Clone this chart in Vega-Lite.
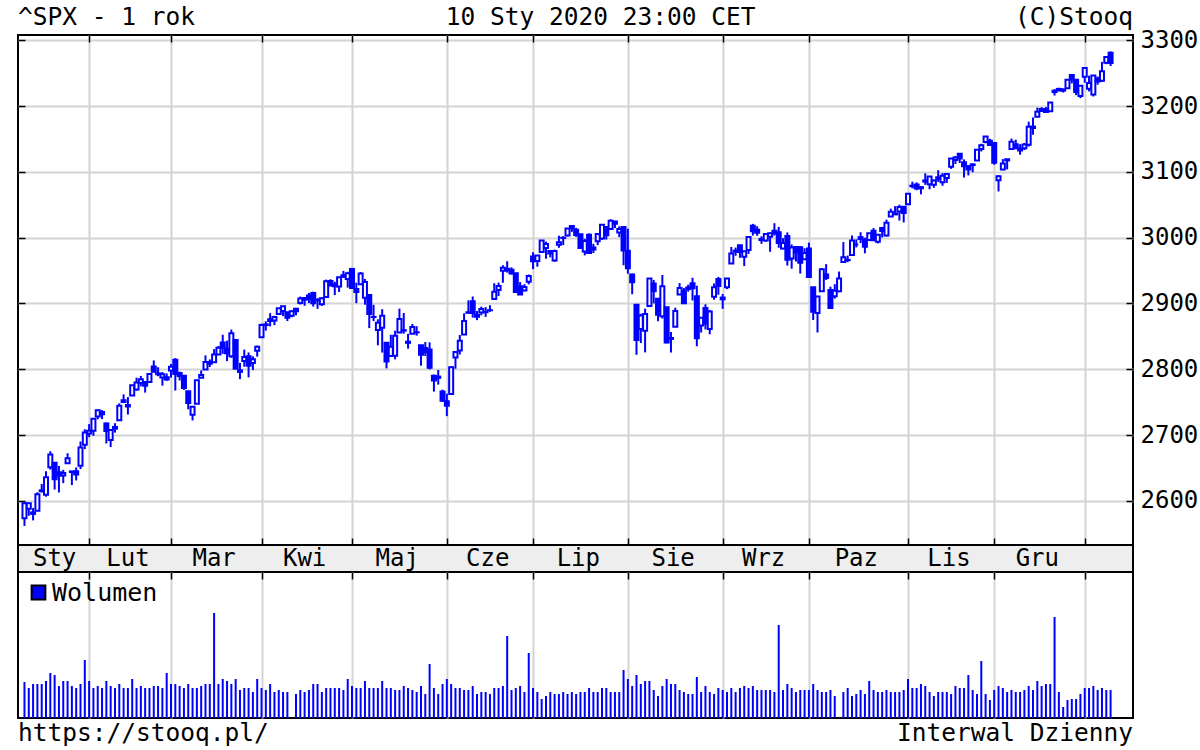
{
"$schema": "https://vega.github.io/schema/vega-lite/v6.json",
"background": "white",
"padding": {"left": 16, "top": 0, "right": 0, "bottom": 0},
"autosize": {"type": "pad"},
"bounds": "flush",
"spacing": 0,
"resolve": {"legend": {"color": "independent"}, "scale": {"color": "independent"}},
"config": {
  "font": "DejaVu Sans Mono",
  "view": {"stroke": null},
  "axis": {"domain": false, "title": null, "gridColor": "#d4d4d4", "gridWidth": 2, "tickColor": "black", "tickWidth": 1.5, "labelFont": "DejaVu Sans Mono"}
},
"datasets": {
"spx": [
{"d":"2019-01-10","o":2573.5,"h":2597.8,"l":2562.0,"c":2596.6,"v":2520},
{"d":"2019-01-11","o":2588.1,"h":2596.3,"l":2577.4,"c":2596.3,"v":2100},
{"d":"2019-01-14","o":2580.3,"h":2589.3,"l":2570.4,"c":2582.6,"v":2380},
{"d":"2019-01-15","o":2585.1,"h":2613.1,"l":2585.1,"c":2610.3,"v":2380},
{"d":"2019-01-16","o":2614.8,"h":2625.8,"l":2612.7,"c":2616.1,"v":2380},
{"d":"2019-01-17","o":2609.3,"h":2645.1,"l":2606.4,"c":2636.0,"v":2590},
{"d":"2019-01-18","o":2651.3,"h":2675.5,"l":2647.6,"c":2670.7,"v":3150},
{"d":"2019-01-22","o":2657.9,"h":2657.9,"l":2617.3,"c":2632.9,"v":3010},
{"d":"2019-01-23","o":2643.5,"h":2653.2,"l":2612.9,"c":2638.7,"v":2240},
{"d":"2019-01-24","o":2638.8,"h":2647.2,"l":2627.0,"c":2642.3,"v":2590},
{"d":"2019-01-25","o":2657.4,"h":2672.4,"l":2657.3,"c":2664.8,"v":2590},
{"d":"2019-01-28","o":2644.9,"h":2644.9,"l":2624.1,"c":2643.9,"v":2240},
{"d":"2019-01-29","o":2644.9,"h":2650.9,"l":2631.1,"c":2640.0,"v":2100},
{"d":"2019-01-30","o":2653.6,"h":2690.4,"l":2648.3,"c":2681.1,"v":2380},
{"d":"2019-01-31","o":2685.5,"h":2708.9,"l":2678.7,"c":2704.1,"v":4060},
{"d":"2019-02-01","o":2702.3,"h":2716.7,"l":2696.9,"c":2706.5,"v":2590},
{"d":"2019-02-04","o":2706.5,"h":2725.0,"l":2698.8,"c":2724.9,"v":2100},
{"d":"2019-02-05","o":2728.3,"h":2739.0,"l":2724.0,"c":2737.7,"v":2240},
{"d":"2019-02-06","o":2735.1,"h":2738.1,"l":2724.2,"c":2731.6,"v":2100},
{"d":"2019-02-07","o":2717.5,"h":2719.3,"l":2687.3,"c":2706.1,"v":2590},
{"d":"2019-02-08","o":2692.4,"h":2708.1,"l":2681.8,"c":2707.9,"v":2240},
{"d":"2019-02-11","o":2712.4,"h":2718.1,"l":2703.8,"c":2709.8,"v":2100},
{"d":"2019-02-12","o":2722.6,"h":2748.2,"l":2722.6,"c":2744.7,"v":2380},
{"d":"2019-02-13","o":2750.3,"h":2761.9,"l":2748.6,"c":2753.0,"v":2100},
{"d":"2019-02-14","o":2743.5,"h":2757.9,"l":2731.2,"c":2745.7,"v":2100},
{"d":"2019-02-15","o":2760.2,"h":2775.7,"l":2760.2,"c":2775.6,"v":2730},
{"d":"2019-02-19","o":2769.3,"h":2787.3,"l":2767.3,"c":2779.8,"v":2100},
{"d":"2019-02-20","o":2779.1,"h":2789.9,"l":2774.1,"c":2784.7,"v":2240},
{"d":"2019-02-21","o":2780.7,"h":2781.6,"l":2764.6,"c":2774.9,"v":2100},
{"d":"2019-02-22","o":2780.7,"h":2794.2,"l":2779.1,"c":2792.7,"v":2100},
{"d":"2019-02-25","o":2804.4,"h":2813.5,"l":2795.0,"c":2796.1,"v":2240},
{"d":"2019-02-26","o":2792.4,"h":2803.1,"l":2789.5,"c":2793.9,"v":2240},
{"d":"2019-02-27","o":2787.5,"h":2795.8,"l":2775.1,"c":2792.4,"v":2100},
{"d":"2019-02-28","o":2788.1,"h":2793.7,"l":2782.5,"c":2784.5,"v":3150},
{"d":"2019-03-01","o":2798.2,"h":2808.0,"l":2787.4,"c":2803.7,"v":2380},
{"d":"2019-03-04","o":2814.4,"h":2816.9,"l":2767.7,"c":2792.8,"v":2380},
{"d":"2019-03-05","o":2794.4,"h":2796.4,"l":2783.0,"c":2789.7,"v":2240},
{"d":"2019-03-06","o":2790.3,"h":2790.3,"l":2768.7,"c":2771.5,"v":2100},
{"d":"2019-03-07","o":2766.5,"h":2767.3,"l":2739.1,"c":2748.9,"v":2380},
{"d":"2019-03-08","o":2730.8,"h":2744.1,"l":2722.3,"c":2743.1,"v":2100},
{"d":"2019-03-11","o":2747.6,"h":2784.0,"l":2747.6,"c":2783.3,"v":2100},
{"d":"2019-03-12","o":2787.3,"h":2798.3,"l":2786.7,"c":2791.5,"v":2240},
{"d":"2019-03-13","o":2799.8,"h":2821.2,"l":2799.8,"c":2810.9,"v":2380},
{"d":"2019-03-14","o":2811.0,"h":2815.0,"l":2803.5,"c":2808.5,"v":2380},
{"d":"2019-03-15","o":2810.8,"h":2830.7,"l":2810.8,"c":2822.5,"v":7350},
{"d":"2019-03-18","o":2822.6,"h":2835.4,"l":2822.0,"c":2832.9,"v":2380},
{"d":"2019-03-19","o":2840.8,"h":2852.4,"l":2823.3,"c":2832.6,"v":2730},
{"d":"2019-03-20","o":2831.3,"h":2843.5,"l":2812.4,"c":2824.2,"v":2590},
{"d":"2019-03-21","o":2819.7,"h":2860.3,"l":2817.4,"c":2854.9,"v":2380},
{"d":"2019-03-22","o":2844.5,"h":2846.2,"l":2800.5,"c":2800.7,"v":2730},
{"d":"2019-03-25","o":2796.0,"h":2809.8,"l":2785.0,"c":2798.4,"v":1960},
{"d":"2019-03-26","o":2812.7,"h":2829.9,"l":2804.0,"c":2818.5,"v":2100},
{"d":"2019-03-27","o":2819.7,"h":2825.6,"l":2787.7,"c":2805.4,"v":2100},
{"d":"2019-03-28","o":2809.4,"h":2819.7,"l":2798.8,"c":2815.4,"v":1820},
{"d":"2019-03-29","o":2828.3,"h":2836.0,"l":2819.2,"c":2834.4,"v":2730},
{"d":"2019-04-01","o":2848.6,"h":2869.4,"l":2848.6,"c":2867.2,"v":2100},
{"d":"2019-04-02","o":2868.2,"h":2872.9,"l":2858.8,"c":2867.2,"v":1960},
{"d":"2019-04-03","o":2876.1,"h":2885.3,"l":2865.2,"c":2873.4,"v":2380},
{"d":"2019-04-04","o":2874.0,"h":2881.3,"l":2867.1,"c":2879.4,"v":1820},
{"d":"2019-04-05","o":2884.2,"h":2893.2,"l":2883.0,"c":2892.7,"v":1960},
{"d":"2019-04-08","o":2888.5,"h":2896.0,"l":2880.8,"c":2895.8,"v":1820},
{"d":"2019-04-09","o":2886.6,"h":2886.9,"l":2873.3,"c":2878.2,"v":1820},
{"d":"2019-04-10","o":2881.4,"h":2889.7,"l":2879.1,"c":2888.2,"v":null},
{"d":"2019-04-11","o":2891.9,"h":2893.4,"l":2882.0,"c":2888.3,"v":1680},
{"d":"2019-04-12","o":2900.9,"h":2910.5,"l":2898.4,"c":2907.4,"v":1960},
{"d":"2019-04-15","o":2908.3,"h":2909.6,"l":2896.5,"c":2905.6,"v":1820},
{"d":"2019-04-16","o":2912.3,"h":2916.1,"l":2900.7,"c":2907.1,"v":1960},
{"d":"2019-04-17","o":2916.0,"h":2918.0,"l":2895.4,"c":2900.5,"v":2380},
{"d":"2019-04-18","o":2904.8,"h":2908.4,"l":2891.9,"c":2905.0,"v":2380},
{"d":"2019-04-22","o":2898.8,"h":2909.5,"l":2896.4,"c":2908.0,"v":1820},
{"d":"2019-04-23","o":2910.0,"h":2936.3,"l":2908.5,"c":2933.7,"v":2100},
{"d":"2019-04-24","o":2934.0,"h":2936.8,"l":2926.1,"c":2927.3,"v":2100},
{"d":"2019-04-25","o":2929.0,"h":2933.1,"l":2912.8,"c":2926.2,"v":2100},
{"d":"2019-04-26","o":2925.8,"h":2939.9,"l":2917.6,"c":2939.9,"v":2100},
{"d":"2019-04-29","o":2940.6,"h":2949.5,"l":2939.4,"c":2943.0,"v":1960},
{"d":"2019-04-30","o":2937.1,"h":2948.2,"l":2924.1,"c":2945.8,"v":2730},
{"d":"2019-05-01","o":2952.3,"h":2954.1,"l":2923.4,"c":2923.7,"v":2240},
{"d":"2019-05-02","o":2922.2,"h":2931.7,"l":2900.5,"c":2917.5,"v":2100},
{"d":"2019-05-03","o":2929.2,"h":2947.9,"l":2929.2,"c":2945.6,"v":2100},
{"d":"2019-05-06","o":2908.9,"h":2937.3,"l":2898.2,"c":2932.5,"v":2590},
{"d":"2019-05-07","o":2913.0,"h":2913.0,"l":2862.6,"c":2884.1,"v":2100},
{"d":"2019-05-08","o":2879.6,"h":2898.0,"l":2873.3,"c":2879.4,"v":2100},
{"d":"2019-05-09","o":2859.8,"h":2876.0,"l":2836.4,"c":2870.7,"v":2100},
{"d":"2019-05-10","o":2863.1,"h":2891.3,"l":2825.4,"c":2881.4,"v":2590},
{"d":"2019-05-13","o":2840.2,"h":2840.2,"l":2801.4,"c":2811.9,"v":2100},
{"d":"2019-05-14","o":2820.1,"h":2852.5,"l":2820.1,"c":2834.4,"v":2100},
{"d":"2019-05-15","o":2820.4,"h":2858.7,"l":2815.1,"c":2851.0,"v":1960},
{"d":"2019-05-16","o":2855.8,"h":2892.2,"l":2855.8,"c":2876.3,"v":1960},
{"d":"2019-05-17","o":2858.6,"h":2885.5,"l":2854.2,"c":2859.5,"v":2240},
{"d":"2019-05-20","o":2841.9,"h":2853.9,"l":2831.3,"c":2840.2,"v":2100},
{"d":"2019-05-21","o":2854.0,"h":2868.9,"l":2854.0,"c":2864.4,"v":1960},
{"d":"2019-05-22","o":2856.1,"h":2865.5,"l":2851.1,"c":2856.3,"v":1820},
{"d":"2019-05-23","o":2836.7,"h":2836.7,"l":2805.5,"c":2822.2,"v":2240},
{"d":"2019-05-24","o":2832.4,"h":2841.4,"l":2820.2,"c":2826.1,"v":1680},
{"d":"2019-05-28","o":2830.0,"h":2841.0,"l":2799.8,"c":2802.4,"v":3780},
{"d":"2019-05-29","o":2790.3,"h":2792.0,"l":2766.1,"c":2783.0,"v":2100},
{"d":"2019-05-30","o":2786.9,"h":2799.0,"l":2776.7,"c":2788.9,"v":1680},
{"d":"2019-05-31","o":2766.2,"h":2769.0,"l":2750.5,"c":2752.1,"v":2380},
{"d":"2019-06-03","o":2751.5,"h":2763.1,"l":2728.8,"c":2744.5,"v":2730},
{"d":"2019-06-04","o":2762.6,"h":2804.5,"l":2762.6,"c":2803.3,"v":2380},
{"d":"2019-06-05","o":2818.1,"h":2827.3,"l":2800.9,"c":2826.2,"v":2100},
{"d":"2019-06-06","o":2828.5,"h":2852.1,"l":2822.5,"c":2843.5,"v":2100},
{"d":"2019-06-07","o":2852.9,"h":2885.0,"l":2852.9,"c":2873.3,"v":1960},
{"d":"2019-06-10","o":2885.8,"h":2904.8,"l":2885.5,"c":2886.7,"v":1960},
{"d":"2019-06-11","o":2903.3,"h":2910.6,"l":2878.5,"c":2885.7,"v":2240},
{"d":"2019-06-12","o":2882.7,"h":2888.6,"l":2874.7,"c":2879.8,"v":1680},
{"d":"2019-06-13","o":2886.2,"h":2895.2,"l":2882.0,"c":2891.6,"v":1820},
{"d":"2019-06-14","o":2886.8,"h":2894.5,"l":2879.6,"c":2887.0,"v":1820},
{"d":"2019-06-17","o":2889.8,"h":2897.3,"l":2887.3,"c":2889.7,"v":1680},
{"d":"2019-06-18","o":2906.7,"h":2930.8,"l":2905.4,"c":2917.8,"v":2100},
{"d":"2019-06-19","o":2920.6,"h":2931.7,"l":2911.4,"c":2926.5,"v":2100},
{"d":"2019-06-20","o":2949.6,"h":2958.1,"l":2931.5,"c":2954.2,"v":2240},
{"d":"2019-06-21","o":2952.7,"h":2964.2,"l":2946.9,"c":2950.5,"v":5740},
{"d":"2019-06-24","o":2951.4,"h":2954.9,"l":2944.1,"c":2945.4,"v":1960},
{"d":"2019-06-25","o":2945.8,"h":2946.5,"l":2916.0,"c":2917.4,"v":2100},
{"d":"2019-06-26","o":2926.1,"h":2932.6,"l":2913.0,"c":2913.8,"v":2240},
{"d":"2019-06-27","o":2919.7,"h":2929.3,"l":2918.6,"c":2924.9,"v":1820},
{"d":"2019-06-28","o":2932.9,"h":2944.0,"l":2929.1,"c":2941.8,"v":4550},
{"d":"2019-07-01","o":2971.4,"h":2977.9,"l":2952.2,"c":2964.3,"v":2100},
{"d":"2019-07-02","o":2964.7,"h":2973.2,"l":2955.9,"c":2973.0,"v":1820},
{"d":"2019-07-03","o":2978.1,"h":2995.8,"l":2978.0,"c":2995.8,"v":1330},
{"d":"2019-07-05","o":2984.3,"h":2994.0,"l":2968.0,"c":2990.4,"v":1540},
{"d":"2019-07-08","o":2979.8,"h":2980.8,"l":2970.1,"c":2976.0,"v":1820},
{"d":"2019-07-09","o":2965.5,"h":2981.9,"l":2963.4,"c":2979.6,"v":1680},
{"d":"2019-07-10","o":2989.3,"h":3003.0,"l":2984.6,"c":2993.1,"v":1680},
{"d":"2019-07-11","o":2999.6,"h":3002.3,"l":2988.8,"c":2999.9,"v":1820},
{"d":"2019-07-12","o":3003.4,"h":3013.9,"l":3001.9,"c":3013.8,"v":1680},
{"d":"2019-07-15","o":3017.8,"h":3017.8,"l":3008.8,"c":3014.3,"v":1820},
{"d":"2019-07-16","o":3012.1,"h":3015.0,"l":3001.2,"c":3004.0,"v":1680},
{"d":"2019-07-17","o":3005.1,"h":3005.3,"l":2984.3,"c":2984.4,"v":1820},
{"d":"2019-07-18","o":2978.9,"h":2998.3,"l":2973.1,"c":2995.1,"v":1820},
{"d":"2019-07-19","o":3004.3,"h":3006.5,"l":2975.9,"c":2976.6,"v":2100},
{"d":"2019-07-22","o":2981.9,"h":2990.7,"l":2976.7,"c":2985.0,"v":1820},
{"d":"2019-07-23","o":2994.7,"h":3005.9,"l":2988.6,"c":3005.5,"v":1820},
{"d":"2019-07-24","o":2998.8,"h":3019.6,"l":2996.8,"c":3019.6,"v":2100},
{"d":"2019-07-25","o":3016.3,"h":3016.3,"l":2997.2,"c":3003.7,"v":2100},
{"d":"2019-07-26","o":3013.3,"h":3028.0,"l":3012.6,"c":3025.9,"v":1820},
{"d":"2019-07-29","o":3024.5,"h":3025.6,"l":3014.5,"c":3021.0,"v":1820},
{"d":"2019-07-30","o":3007.7,"h":3017.2,"l":3000.9,"c":3013.2,"v":1820},
{"d":"2019-07-31","o":3016.2,"h":3017.4,"l":2958.1,"c":2980.4,"v":3360},
{"d":"2019-08-01","o":2980.3,"h":3013.6,"l":2945.2,"c":2953.6,"v":2730},
{"d":"2019-08-02","o":2943.9,"h":2945.5,"l":2914.1,"c":2932.1,"v":2240},
{"d":"2019-08-05","o":2898.1,"h":2898.1,"l":2822.1,"c":2844.7,"v":3010},
{"d":"2019-08-06","o":2861.2,"h":2884.4,"l":2840.0,"c":2881.8,"v":2380},
{"d":"2019-08-07","o":2858.7,"h":2892.2,"l":2825.7,"c":2884.0,"v":2590},
{"d":"2019-08-08","o":2896.2,"h":2938.7,"l":2894.5,"c":2938.1,"v":2590},
{"d":"2019-08-09","o":2930.5,"h":2935.8,"l":2900.2,"c":2918.7,"v":1960},
{"d":"2019-08-12","o":2907.1,"h":2907.6,"l":2873.1,"c":2882.7,"v":1540},
{"d":"2019-08-13","o":2880.7,"h":2943.3,"l":2877.1,"c":2926.3,"v":2240},
{"d":"2019-08-14","o":2894.2,"h":2894.2,"l":2839.6,"c":2840.6,"v":2730},
{"d":"2019-08-15","o":2846.2,"h":2856.7,"l":2825.5,"c":2847.6,"v":2380},
{"d":"2019-08-16","o":2864.7,"h":2893.6,"l":2864.7,"c":2888.7,"v":2380},
{"d":"2019-08-19","o":2913.5,"h":2931.0,"l":2913.5,"c":2923.7,"v":1960},
{"d":"2019-08-20","o":2919.0,"h":2923.6,"l":2899.6,"c":2900.5,"v":1820},
{"d":"2019-08-21","o":2922.0,"h":2928.7,"l":2917.9,"c":2924.4,"v":1680},
{"d":"2019-08-22","o":2930.9,"h":2939.1,"l":2904.5,"c":2923.0,"v":1680},
{"d":"2019-08-23","o":2911.1,"h":2927.0,"l":2835.0,"c":2847.1,"v":2870},
{"d":"2019-08-26","o":2866.7,"h":2879.3,"l":2856.0,"c":2878.4,"v":1820},
{"d":"2019-08-27","o":2893.1,"h":2898.8,"l":2860.6,"c":2869.2,"v":2240},
{"d":"2019-08-28","o":2861.3,"h":2890.0,"l":2853.1,"c":2887.9,"v":1820},
{"d":"2019-08-29","o":2910.4,"h":2930.5,"l":2905.7,"c":2924.6,"v":1680},
{"d":"2019-08-30","o":2937.1,"h":2940.4,"l":2913.3,"c":2926.5,"v":2100},
{"d":"2019-09-03","o":2909.0,"h":2914.4,"l":2891.9,"c":2906.3,"v":1960},
{"d":"2019-09-04","o":2924.7,"h":2938.8,"l":2921.9,"c":2937.8,"v":1820},
{"d":"2019-09-05","o":2960.6,"h":2985.9,"l":2960.6,"c":2976.0,"v":2100},
{"d":"2019-09-06","o":2980.3,"h":2985.0,"l":2972.5,"c":2978.7,"v":1820},
{"d":"2019-09-09","o":2988.4,"h":2989.4,"l":2969.4,"c":2978.4,"v":2100},
{"d":"2019-09-10","o":2971.0,"h":2979.4,"l":2957.0,"c":2979.4,"v":2240},
{"d":"2019-09-11","o":2981.4,"h":3000.9,"l":2975.3,"c":3000.9,"v":2100},
{"d":"2019-09-12","o":3018.2,"h":3021.0,"l":3003.2,"c":3009.6,"v":2240},
{"d":"2019-09-13","o":3012.2,"h":3017.3,"l":3002.9,"c":3007.4,"v":1960},
{"d":"2019-09-16","o":2996.4,"h":3002.2,"l":2990.7,"c":2998.0,"v":1960},
{"d":"2019-09-17","o":2995.7,"h":3006.2,"l":2993.7,"c":3005.7,"v":1960},
{"d":"2019-09-18","o":3001.5,"h":3007.8,"l":2978.6,"c":3006.7,"v":1960},
{"d":"2019-09-19","o":3010.4,"h":3022.0,"l":3003.2,"c":3006.8,"v":1820},
{"d":"2019-09-20","o":3008.4,"h":3016.4,"l":2984.7,"c":2992.1,"v":6510},
{"d":"2019-09-23","o":2983.5,"h":2999.2,"l":2982.2,"c":2991.8,"v":1960},
{"d":"2019-09-24","o":3002.4,"h":3008.0,"l":2957.7,"c":2966.6,"v":2380},
{"d":"2019-09-25","o":2968.4,"h":2989.8,"l":2952.9,"c":2984.9,"v":2100},
{"d":"2019-09-26","o":2985.7,"h":2987.3,"l":2963.7,"c":2977.6,"v":1820},
{"d":"2019-09-27","o":2985.5,"h":2987.3,"l":2945.5,"c":2961.8,"v":1960},
{"d":"2019-09-30","o":2967.1,"h":2983.9,"l":2967.1,"c":2976.7,"v":1960},
{"d":"2019-10-01","o":2983.7,"h":2992.5,"l":2938.7,"c":2940.3,"v":1960},
{"d":"2019-10-02","o":2924.8,"h":2924.8,"l":2874.9,"c":2887.6,"v":2380},
{"d":"2019-10-03","o":2885.4,"h":2911.1,"l":2855.9,"c":2910.6,"v":1960},
{"d":"2019-10-04","o":2918.6,"h":2953.7,"l":2918.6,"c":2952.0,"v":1820},
{"d":"2019-10-07","o":2944.2,"h":2959.8,"l":2935.7,"c":2938.8,"v":1820},
{"d":"2019-10-08","o":2920.4,"h":2925.5,"l":2892.7,"c":2893.1,"v":1960},
{"d":"2019-10-09","o":2911.1,"h":2929.3,"l":2907.4,"c":2919.4,"v":1540},
{"d":"2019-10-10","o":2918.6,"h":2948.5,"l":2917.1,"c":2938.1,"v":null},
{"d":"2019-10-11","o":2963.1,"h":2993.3,"l":2963.1,"c":2970.3,"v":1820},
{"d":"2019-10-14","o":2965.8,"h":2972.8,"l":2962.9,"c":2966.2,"v":2100},
{"d":"2019-10-15","o":2973.6,"h":3003.3,"l":2973.6,"c":2995.7,"v":1540},
{"d":"2019-10-16","o":2989.7,"h":2997.5,"l":2985.2,"c":2989.7,"v":1680},
{"d":"2019-10-17","o":3000.8,"h":3008.3,"l":2991.8,"c":2998.0,"v":1960},
{"d":"2019-10-18","o":2996.8,"h":3000.0,"l":2976.3,"c":2986.2,"v":1680},
{"d":"2019-10-21","o":2996.5,"h":3007.3,"l":2995.4,"c":3006.7,"v":2590},
{"d":"2019-10-22","o":3010.7,"h":3014.6,"l":2995.0,"c":2996.0,"v":1960},
{"d":"2019-10-23","o":2994.0,"h":3004.8,"l":2991.2,"c":3004.5,"v":1820},
{"d":"2019-10-24","o":3014.8,"h":3016.1,"l":3000.4,"c":3010.3,"v":1820},
{"d":"2019-10-25","o":3003.3,"h":3027.4,"l":3001.9,"c":3022.6,"v":1960},
{"d":"2019-10-28","o":3032.1,"h":3044.1,"l":3032.1,"c":3039.4,"v":1820},
{"d":"2019-10-29","o":3035.4,"h":3047.9,"l":3034.8,"c":3036.9,"v":1820},
{"d":"2019-10-30","o":3039.7,"h":3050.1,"l":3026.0,"c":3046.8,"v":1820},
{"d":"2019-10-31","o":3046.9,"h":3046.9,"l":3023.2,"c":3037.6,"v":1960},
{"d":"2019-11-01","o":3050.7,"h":3067.0,"l":3050.7,"c":3066.9,"v":2730},
{"d":"2019-11-04","o":3079.0,"h":3085.2,"l":3074.9,"c":3078.3,"v":2100},
{"d":"2019-11-05","o":3080.8,"h":3084.0,"l":3072.2,"c":3074.6,"v":2100},
{"d":"2019-11-06","o":3075.1,"h":3078.3,"l":3065.9,"c":3076.8,"v":2380},
{"d":"2019-11-07","o":3087.0,"h":3097.8,"l":3080.3,"c":3085.2,"v":2240},
{"d":"2019-11-08","o":3081.3,"h":3093.1,"l":3073.6,"c":3093.1,"v":1820},
{"d":"2019-11-11","o":3080.3,"h":3088.3,"l":3075.8,"c":3087.0,"v":1540},
{"d":"2019-11-12","o":3089.3,"h":3102.6,"l":3084.7,"c":3091.8,"v":1820},
{"d":"2019-11-13","o":3084.2,"h":3098.1,"l":3078.8,"c":3094.0,"v":1820},
{"d":"2019-11-14","o":3090.8,"h":3098.2,"l":3083.3,"c":3096.6,"v":1820},
{"d":"2019-11-15","o":3107.9,"h":3120.5,"l":3104.6,"c":3120.5,"v":1680},
{"d":"2019-11-18","o":3117.9,"h":3124.2,"l":3112.1,"c":3122.0,"v":2240},
{"d":"2019-11-19","o":3127.5,"h":3127.6,"l":3113.5,"c":3120.2,"v":2100},
{"d":"2019-11-20","o":3114.7,"h":3119.0,"l":3091.4,"c":3108.5,"v":2100},
{"d":"2019-11-21","o":3108.5,"h":3110.1,"l":3094.6,"c":3103.5,"v":3010},
{"d":"2019-11-22","o":3111.4,"h":3112.9,"l":3099.3,"c":3110.3,"v":1960},
{"d":"2019-11-25","o":3117.4,"h":3133.8,"l":3117.4,"c":3133.6,"v":1680},
{"d":"2019-11-26","o":3134.9,"h":3142.7,"l":3131.0,"c":3140.5,"v":3990},
{"d":"2019-11-27","o":3145.5,"h":3154.3,"l":3143.4,"c":3153.6,"v":1680},
{"d":"2019-11-29","o":3147.2,"h":3150.3,"l":3139.3,"c":3141.0,"v":1260},
{"d":"2019-12-02","o":3143.8,"h":3144.3,"l":3110.8,"c":3113.9,"v":1960},
{"d":"2019-12-03","o":3087.4,"h":3095.0,"l":3070.3,"c":3093.2,"v":2240},
{"d":"2019-12-04","o":3103.5,"h":3119.4,"l":3102.5,"c":3112.8,"v":2100},
{"d":"2019-12-05","o":3119.2,"h":3119.4,"l":3103.8,"c":3117.4,"v":1820},
{"d":"2019-12-06","o":3134.6,"h":3150.6,"l":3134.6,"c":3145.9,"v":1960},
{"d":"2019-12-09","o":3141.9,"h":3148.9,"l":3135.5,"c":3136.0,"v":1820},
{"d":"2019-12-10","o":3135.4,"h":3142.1,"l":3126.1,"c":3132.5,"v":1820},
{"d":"2019-12-11","o":3135.8,"h":3144.0,"l":3133.2,"c":3141.6,"v":1960},
{"d":"2019-12-12","o":3141.2,"h":3176.3,"l":3138.5,"c":3168.6,"v":2240},
{"d":"2019-12-13","o":3166.7,"h":3182.7,"l":3156.5,"c":3168.8,"v":1960},
{"d":"2019-12-16","o":3183.6,"h":3197.7,"l":3183.6,"c":3191.5,"v":2590},
{"d":"2019-12-17","o":3195.4,"h":3198.2,"l":3191.0,"c":3192.5,"v":2240},
{"d":"2019-12-18","o":3195.2,"h":3198.5,"l":3191.1,"c":3191.1,"v":2380},
{"d":"2019-12-19","o":3192.3,"h":3205.5,"l":3192.2,"c":3205.4,"v":2380},
{"d":"2019-12-20","o":3223.3,"h":3225.7,"l":3216.0,"c":3221.2,"v":7070},
{"d":"2019-12-23","o":3226.1,"h":3227.8,"l":3222.3,"c":3224.0,"v":1820},
{"d":"2019-12-24","o":3225.4,"h":3226.4,"l":3220.5,"c":3223.4,"v":770},
{"d":"2019-12-26","o":3227.2,"h":3240.1,"l":3227.2,"c":3239.9,"v":1260},
{"d":"2019-12-27","o":3247.2,"h":3247.9,"l":3234.4,"c":3240.0,"v":1330},
{"d":"2019-12-30","o":3240.1,"h":3240.9,"l":3216.6,"c":3221.3,"v":1330},
{"d":"2019-12-31","o":3215.2,"h":3231.7,"l":3212.0,"c":3230.8,"v":1680},
{"d":"2020-01-02","o":3244.7,"h":3258.1,"l":3235.5,"c":3257.9,"v":2100},
{"d":"2020-01-03","o":3226.4,"h":3246.2,"l":3222.3,"c":3234.9,"v":2100},
{"d":"2020-01-06","o":3217.6,"h":3246.8,"l":3214.6,"c":3246.3,"v":2240},
{"d":"2020-01-07","o":3241.9,"h":3244.9,"l":3232.4,"c":3237.2,"v":1960},
{"d":"2020-01-08","o":3238.6,"h":3267.1,"l":3236.7,"c":3253.1,"v":2100},
{"d":"2020-01-09","o":3266.0,"h":3275.6,"l":3263.7,"c":3274.7,"v":1960},
{"d":"2020-01-10","o":3281.0,"h":3283.0,"l":3260.9,"c":3265.4,"v":1960}
]
},
"vconcat": [
{
  "width": 1115, "height": 35,
  "view": {"stroke": null},
  "data": {"values": [{"t": "^SPX - 1 rok"}, {"t": "10 Sty 2020 23:00 CET"}, {"t": "(C)Stooq"}]},
  "layer": [
    {"transform": [{"filter": "datum.t == '^SPX - 1 rok'"}],
     "mark": {"type": "text", "align": "left", "baseline": "alphabetic", "dy": 7, "fontSize": 24.5, "font": "DejaVu Sans Mono", "color": "black"},
     "encoding": {"x": {"field": "t", "type": "nominal", "scale": {"type": "point", "padding": 0, "domain": ["^SPX - 1 rok", "10 Sty 2020 23:00 CET", "(C)Stooq"]}, "axis": null}, "text": {"field": "t"}}},
    {"transform": [{"filter": "datum.t == '10 Sty 2020 23:00 CET'"}],
     "mark": {"type": "text", "align": "center", "baseline": "alphabetic", "dy": 7, "dx": 25, "fontSize": 24.5, "font": "DejaVu Sans Mono", "color": "black"},
     "encoding": {"x": {"field": "t", "type": "nominal", "axis": null}, "text": {"field": "t"}}},
    {"transform": [{"filter": "datum.t == '(C)Stooq'"}],
     "mark": {"type": "text", "align": "right", "baseline": "alphabetic", "dy": 7, "fontSize": 24.5, "font": "DejaVu Sans Mono", "color": "black"},
     "encoding": {"x": {"field": "t", "type": "nominal", "axis": null}, "text": {"field": "t"}}}
  ]
},
{
  "width": 1115, "height": 510,
  "view": {"stroke": "black", "strokeWidth": 2},
  "data": {"name": "spx"},
  "transform": [{"window": [{"op": "row_number", "as": "i"}]}],
  "layer": [
    {"mark": {"type": "rule", "color": "#0000ff", "strokeWidth": 2},
     "encoding": {
       "x": {"field": "i", "type": "quantitative", "scale": {"domain": [-0.5, 258.2], "nice": false, "zero": false, "padding": 0},
             "axis": {"orient": "top", "values": [16,35,56,77,99,119,141,163,183,206,226,247], "grid": true, "labels": false, "ticks": true, "tickSize": -7, "title": null}},
       "y": {"field": "l", "type": "quantitative", "scale": {"domain": [2533, 3308], "nice": false, "zero": false, "padding": 0},
             "axis": {"orient": "right", "values": [2600,2700,2800,2900,3000,3100,3200,3300], "format": "d", "grid": true, "labels": true, "labelFontSize": 24, "labelColor": "black", "ticks": true, "tickSize": -7, "labelPadding": 14, "title": null}},
       "y2": {"field": "h"}
     }},
    {"mark": {"type": "bar", "size": 4, "stroke": "#0000ff", "strokeWidth": 2},
     "encoding": {
       "x": {"field": "i", "type": "quantitative",
             "axis": {"orient": "bottom", "values": [16,35,56,77,99,119,141,163,183,206,226,247], "grid": false, "labels": false, "ticks": true, "tickSize": -7, "title": null}},
       "y": {"field": "o", "type": "quantitative",
             "axis": {"orient": "left", "values": [2600,2700,2800,2900,3000,3100,3200,3300], "grid": false, "labels": false, "ticks": true, "tickSize": -7, "title": null}},
       "y2": {"field": "c"},
       "fill": {"condition": {"test": "datum.c >= datum.o", "value": "white"}, "value": "#0000ff"}
     }}
  ],
  "resolve": {"axis": {"x": "independent", "y": "independent"}}
},
{
  "width": 1115, "height": 27,
  "view": {"fill": "#eeeeee", "stroke": "black", "strokeWidth": 2},
  "data": {"name": "spx"},
  "transform": [
    {"window": [{"op": "row_number", "as": "i"}]},
    {"calculate": "substring(datum.d, 0, 7)", "as": "ym"},
    {"aggregate": [{"op": "mean", "field": "i", "as": "mi"}, {"op": "count", "as": "n"}], "groupby": ["ym"]},
    {"filter": "datum.n > 10"},
    {"calculate": "['Sty','Lut','Mar','Kwi','Maj','Cze','Lip','Sie','Wrz','Paz','Lis','Gru'][toNumber(substring(datum.ym, 5, 7)) - 1]", "as": "m"}
  ],
  "mark": {"type": "text", "baseline": "middle", "align": "center", "fontSize": 24, "font": "DejaVu Sans Mono", "color": "black"},
  "encoding": {
    "x": {"field": "mi", "type": "quantitative", "scale": {"domain": [-0.5, 258.2], "nice": false, "zero": false, "padding": 0}, "axis": null},
    "text": {"field": "m"}
  }
},
{
  "width": 1115, "height": 146,
  "view": {"stroke": "black", "strokeWidth": 2},
  "data": {"name": "spx"},
  "transform": [{"window": [{"op": "row_number", "as": "i"}]}],
  "mark": {"type": "bar", "size": 2},
  "encoding": {
    "x": {"field": "i", "type": "quantitative", "scale": {"domain": [-0.5, 258.2], "nice": false, "zero": false, "padding": 0},
          "axis": {"orient": "top", "values": [16,35,56,77,99,119,141,163,183,206,226,247], "grid": true, "labels": false, "ticks": true, "tickSize": -7, "title": null}},
    "y": {"field": "v", "type": "quantitative", "scale": {"domain": [0, 10220], "nice": false}, "axis": null},
    "color": {"datum": "Wolumen", "type": "nominal", "scale": {"range": ["#0000ff"]},
              "legend": {"orient": "top-left", "title": null, "symbolType": "square", "symbolSize": 190, "symbolStrokeColor": "black", "symbolStrokeWidth": 2, "symbolFillColor": "#0000ff", "labelFontSize": 25, "labelFont": "DejaVu Sans Mono", "labelColor": "black", "labelOffset": 1, "offset": 8, "padding": 0}}
  }
},
{
  "width": 1115, "height": 32,
  "view": {"stroke": null},
  "data": {"values": [{"t": "https://stooq.pl/"}, {"t": "Interwal Dzienny"}]},
  "layer": [
    {"transform": [{"filter": "datum.t == 'https://stooq.pl/'"}],
     "mark": {"type": "text", "align": "left", "baseline": "alphabetic", "dy": 7, "fontSize": 24.5, "font": "DejaVu Sans Mono", "color": "black"},
     "encoding": {"x": {"field": "t", "type": "nominal", "scale": {"type": "point", "padding": 0, "domain": ["https://stooq.pl/", "Interwal Dzienny"]}, "axis": null}, "text": {"field": "t"}}},
    {"transform": [{"filter": "datum.t == 'Interwal Dzienny'"}],
     "mark": {"type": "text", "align": "right", "baseline": "alphabetic", "dy": 7, "fontSize": 24.5, "font": "DejaVu Sans Mono", "color": "black"},
     "encoding": {"x": {"field": "t", "type": "nominal", "axis": null}, "text": {"field": "t"}}}
  ]
}
]
}
